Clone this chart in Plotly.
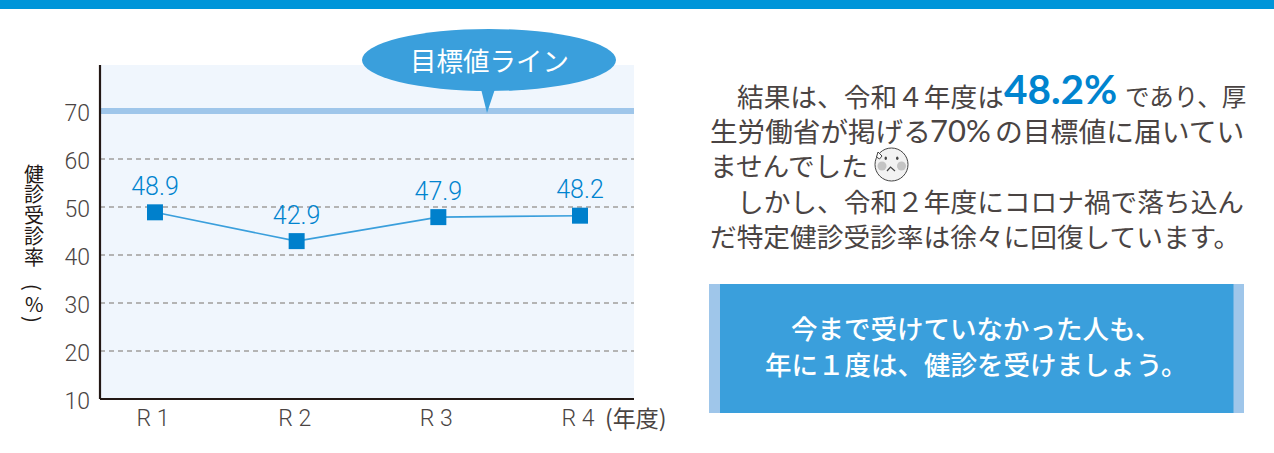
import plotly.graph_objects as go

categories = ["R 1", "R 2", "R 3", "R 4"]
rates = [48.9, 42.9, 47.9, 48.2]
rate_labels = ["48.9", "42.9", "47.9", "48.2"]
y_ticks = [10, 20, 30, 40, 50, 60, 70]
target_value = 70
target_label = "目標値ライン"
y_title_chars = ["健", "診", "受", "診", "率"]
x_unit = "(年度)"
body_lines = ["ませんでした", "しかし、令和２年度にコロナ禍で落ち込ん", "だ特定健診受診率は徐々に回復しています。"]
box_lines = ["今まで受けていなかった人も、", "年に１度は、健診を受けましょう。"]

L, R, T, B = 100, 634, 65, 399
W, H = 1274, 453
JP = "Noto Sans CJK JP"
NUM = "Roboto"
INK = "#4a4443"
BLUE = "#0084cf"
MID = "#3a9fdc"
PALE = "#9fc6ea"
BODY = 26.7


def px(x):
    return (x - L) / (R - L)


def py(y):
    return (B - y) / (B - T)


def rect(x0, y0, x1, y1, color, layer="above"):
    return dict(type="rect", xref="paper", yref="paper", x0=px(x0), x1=px(x1), y0=py(y0), y1=py(y1),
                fillcolor=color, line_width=0, layer=layer)


def oval(x0, y0, x1, y1, color, line=None):
    return dict(type="circle", xref="paper", yref="paper", x0=px(x0), x1=px(x1), y0=py(y0), y1=py(y1),
                fillcolor=color, line=dict(color=line or color, width=1 if line else 0), layer="above")


def poly(points, color, fill=None, width=1):
    path = "M " + " L ".join(f"{px(a):.5f},{py(b):.5f}" for a, b in points)
    if fill:
        path += " Z"
    return dict(type="path", xref="paper", yref="paper", path=path, fillcolor=fill,
                line=dict(color=color, width=width), layer="above")


def label(x, y, text, size=BODY, color=INK, anchor="left", family=JP, angle=0, weight=None):
    font = dict(size=size, color=color, family=family)
    if weight:
        font["weight"] = weight
    return dict(xref="paper", yref="paper", x=px(x), y=py(y), text=text, showarrow=False,
                xanchor=anchor, yanchor="middle", font=font, textangle=angle,
                borderpad=0, borderwidth=0)


fig = go.Figure()
fig.add_trace(go.Scatter(
    x=categories, y=rates, mode="lines+markers+text", text=rate_labels, textposition="top center",
    textfont=dict(size=25, color=BLUE, family=NUM, weight=300),
    line=dict(color=MID, width=1.6),
    marker=dict(symbol="square", size=16, color="#0080cc"),
    cliponaxis=False, hoverinfo="skip", showlegend=False,
))

shapes = [
    dict(type="line", xref="paper", yref="y", x0=0, x1=1, y0=target_value, y1=target_value,
         line=dict(color=PALE, width=6), layer="above"),
    rect(0, 0, W, 9, "#0095d9"),
    oval(362, 29, 616, 91, MID),
    poly([(481, 89), (495, 89), (487, 113)], MID, MID, 0),
    rect(709, 284, 1244, 413, PALE),
    rect(720, 284, 1233.5, 413, MID),
    oval(875, 148, 908, 181, "#f2f2f2", "#444444"),
    oval(877.5, 161.5, 886.5, 170.5, "#c4c4c4"),
    oval(897, 161.5, 906, 170.5, "#c4c4c4"),
    oval(884.5, 156.5, 887, 160, "#444444"),
    oval(896, 156.5, 898.5, 160, "#444444"),
    poly([(887, 171), (890.5, 167), (895, 171)], "#444444", None, 1.2),
    poly([(878, 152), (876.5, 157), (879.5, 159), (882, 156), (878, 152)], "#444444", "#ffffff", 1),
]

annotations = [
    label(489, 60, target_label, 26.5, "#ffffff", "center"),
    label(605, 417, x_unit, 23, INK),
    label(737, 95, "結果は、令和４年度は"),
    label(1004, 88, "48.2%", 40.5, BLUE, family="Lato", weight=700),
    label(1125, 95, "であり、厚", 24.5),
    label(710, 130, "生労働省が掲げる", 27.6),
    label(930, 130, "70%", 31, family="Lato"),
    label(995, 130, "の目標値に届いてい", 27.8),
    label(710, 164, body_lines[0]),
    label(737, 200, body_lines[1]),
    label(710, 235, body_lines[2]),
    label(975.5, 327, box_lines[0], 26.5, "#ffffff", "center", weight=500),
    label(975.5, 363, box_lines[1], 26.5, "#ffffff", "center", weight=500),
]
for i, ch in enumerate(y_title_chars):
    annotations.append(label(34, 173 + i * 20.8, ch, 20, "#231815", "center"))
annotations.append(label(34, 287, "(", 20, "#231815", "center", angle=90))
annotations.append(label(34, 303, "%", 20, "#231815", "center"))
annotations.append(label(34, 319, ")", 20, "#231815", "center", angle=90))

fig.update_layout(
    width=W, height=H, autosize=False,
    margin=dict(l=L, r=W - R, t=T, b=H - B, pad=0),
    paper_bgcolor="#ffffff", plot_bgcolor="#f0f6fd",
    showlegend=False, shapes=shapes, annotations=annotations,
    xaxis=dict(type="category", categoryorder="array", categoryarray=categories,
               range=[-0.388, 3.381], showgrid=False, zeroline=False,
               showline=False, ticks="", ticklabelstandoff=3, ticklabelshift=-2,
               tickfont=dict(size=23, color=INK, family=NUM, weight=300)),
    yaxis=dict(range=[10, 79.6], tickvals=y_ticks, showgrid=True, gridcolor="#b4b4b4",
               griddash="5px,4px", gridwidth=1.6, zeroline=False,
               showline=False, ticks="", ticklabelstandoff=9, ticklabelshift=2,
               tickfont=dict(size=23, color=INK, family=NUM, weight=300)),
)
fig.add_shape(type="line", xref="paper", yref="paper", x0=0, x1=1, y0=0, y1=0,
              line=dict(color="#231815", width=2.2), layer="above")
fig.add_shape(type="line", xref="paper", yref="paper", x0=0, x1=0, y0=0, y1=1,
              line=dict(color="#231815", width=2.2), layer="above")

fig.write_html("out.html", config={"displayModeBar": False},
               post_script="document.body.style.margin='0';document.body.style.overflow='hidden';")
